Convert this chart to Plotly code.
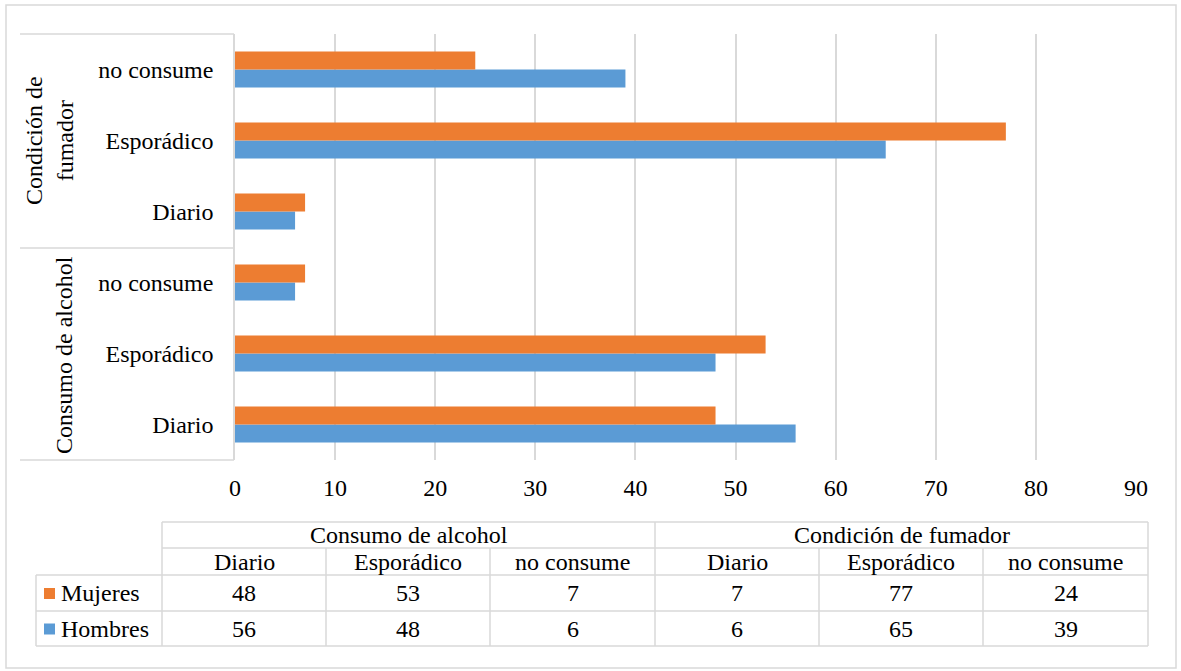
import plotly.graph_objects as go

# ---------------- data ----------------
groups = ["Consumo de alcohol", "Condición de fumador"]
categories = ["Diario", "Esporádico", "no consume"]
series_names = ["Mujeres", "Hombres"]
mujeres = [48, 53, 7, 7, 77, 24]
hombres = [56, 48, 6, 6, 65, 39]
x_ticks = [0, 10, 20, 30, 40, 50, 60, 70, 80, 90]

# ---------------- style ----------------
W, H = 1181, 671
FONT = "Times New Roman, Liberation Serif, serif"
C_M = "#ED7D31"
C_H = "#5B9BD5"
GRID = "#D9D9D9"


def px(x):
    return x / W


def py(y):
    return 1 - y / H


y_keys = [f"{g}|{c}" for g in groups for c in categories]
y_text = [c for g in groups for c in categories]

fig = go.Figure()
fig.add_trace(go.Bar(name=series_names[1], y=y_keys, x=hombres, orientation="h",
                     marker=dict(color=C_H, line=dict(width=0))))
fig.add_trace(go.Bar(name=series_names[0], y=y_keys, x=mujeres, orientation="h",
                     marker=dict(color=C_M, line=dict(width=0))))

shapes = []
annotations = []

# outer frame
shapes.append(dict(type="rect", xref="paper", yref="paper",
                   x0=px(6), x1=px(1176), y0=py(668), y1=py(5),
                   line=dict(color=GRID, width=1.5)))

# category axis band lines
for yy in (34, 248, 460):
    shapes.append(dict(type="line", xref="paper", yref="paper",
                       x0=px(20), x1=px(234), y0=py(yy), y1=py(yy),
                       line=dict(color=GRID, width=1.5)))

# group labels
annotations.append(dict(text="Condición de<br>fumador", xref="paper", yref="paper",
                        x=px(50), y=py(141), textangle=-90, showarrow=False,
                        font=dict(family=FONT, size=24, color="black"),
                        xanchor="center", yanchor="middle"))
annotations.append(dict(text=groups[0], xref="paper", yref="paper",
                        x=px(64), y=py(355), textangle=-90, showarrow=False,
                        font=dict(family=FONT, size=24, color="black"),
                        xanchor="center", yanchor="middle"))

# ---------------- data table ----------------
col_x = [162, 326, 490, 655, 819, 983, 1148]
row_y = [522, 548, 575, 611, 646]
leg_x0 = 36


def hline(x0, x1, y):
    shapes.append(dict(type="line", xref="paper", yref="paper",
                       x0=px(x0), x1=px(x1), y0=py(y), y1=py(y),
                       line=dict(color=GRID, width=1.5)))


def vline(x, y0, y1):
    shapes.append(dict(type="line", xref="paper", yref="paper",
                       x0=px(x), x1=px(x), y0=py(y0), y1=py(y1),
                       line=dict(color=GRID, width=1.5)))


hline(col_x[0], col_x[-1], row_y[0])
hline(col_x[0], col_x[-1], row_y[1])
for yy in row_y[2:]:
    hline(leg_x0, col_x[-1], yy)
vline(leg_x0, row_y[2], row_y[4])
for i, xx in enumerate(col_x):
    if i in (0, 3, 6):
        vline(xx, row_y[0], row_y[4])
    else:
        vline(xx, row_y[1], row_y[4])


def txt(s, x, y, anchor="center"):
    annotations.append(dict(text=str(s), xref="paper", yref="paper",
                            x=px(x), y=py(y), showarrow=False,
                            font=dict(family=FONT, size=24, color="black"),
                            xanchor=anchor, yanchor="middle"))


# group header row
for gi, g in enumerate(groups):
    x0, x1 = col_x[gi * 3], col_x[gi * 3 + 3]
    txt(g, (x0 + x1) / 2, (row_y[0] + row_y[1]) / 2)
# category header row
for ci in range(6):
    txt(y_text[ci], (col_x[ci] + col_x[ci + 1]) / 2, (row_y[1] + row_y[2]) / 2)
# values
for ri, (name, vals, col) in enumerate([(series_names[0], mujeres, C_M),
                                         (series_names[1], hombres, C_H)]):
    yc = (row_y[2 + ri] + row_y[3 + ri]) / 2
    for ci in range(6):
        txt(vals[ci], (col_x[ci] + col_x[ci + 1]) / 2, yc)
    shapes.append(dict(type="rect", xref="paper", yref="paper",
                       x0=px(44), x1=px(55), y0=py(yc + 6), y1=py(yc - 5),
                       fillcolor=col, line=dict(width=0)))
    txt(name, 59, yc, anchor="left")

fig.update_layout(
    width=W, height=H,
    margin=dict(l=0, r=0, t=0, b=0),
    paper_bgcolor="white", plot_bgcolor="white",
    barmode="group", bargap=0.49, bargroupgap=0,
    showlegend=False,
    font=dict(family=FONT, size=24, color="black"),
    shapes=shapes, annotations=annotations,
    xaxis=dict(domain=[px(235), px(1136)], range=[0, 90],
               tickvals=x_ticks, ticktext=[str(v) for v in x_ticks],
               showgrid=True, gridcolor=GRID, gridwidth=1.5,
               zeroline=False, showline=False, ticks="",
               ticklabelstandoff=11, automargin=False,
               tickfont=dict(family=FONT, size=24, color="black")),
    yaxis=dict(domain=[py(460), py(34)], type="category",
               categoryorder="array", categoryarray=y_keys,
               tickvals=y_keys, ticktext=y_text,
               showgrid=False, zeroline=False,
               showline=True, linecolor=GRID, linewidth=1.5,
               ticks="", ticklabelstandoff=15, automargin=False,
               tickfont=dict(family=FONT, size=24, color="black")),
)

fig.write_html("out.html")
